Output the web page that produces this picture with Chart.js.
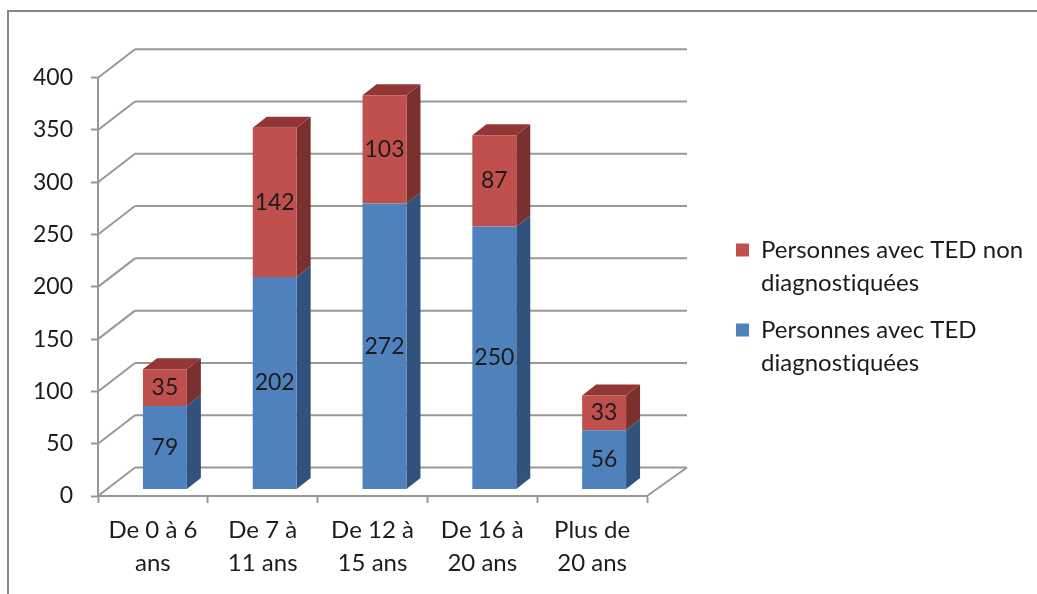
<!DOCTYPE html>
<html lang="fr">
<head>
<meta charset="utf-8">
<title>Personnes avec TED par tranche d'âge</title>
<script src="https://cdn.jsdelivr.net/npm/chart.js@4/dist/chart.umd.min.js"></script>
<style>
html,body{margin:0;padding:0;background:#fff;}
#wrap{width:1037px;height:594px;overflow:hidden;}
canvas{display:block;}
</style>
</head>
<body>
<div id="wrap"><canvas id="c" width="1037" height="594"></canvas></div>
<script>
// Age bands, wrapped on two lines under the axis
const categories = [["De 0 à 6","ans"],["De 7 à","11 ans"],["De 12 à","15 ans"],["De 16 à","20 ans"],["Plus de","20 ans"]];
const diagnosed = [79,202,272,250,56];
const undiagnosed = [35,142,103,87,33];
const diagnosedLabel = ["Personnes avec TED","diagnostiquées"];
const undiagnosedLabel = ["Personnes avec TED non","diagnostiquées"];

const FONT = "Lato, 'Open Sans', sans-serif";
const TEXT = "#1c1c1c";
const LINE = "#989898";
const BLUE = {front:"#4f81bd", side:"#30527c", top:"#3d6594"};
const RED = {front:"#c0504d", side:"#7a302e", top:"#923735"};

// Extrusion of the bars and of the walls behind them
const BAR_DX = 14, BAR_DY = -11, BAR_SHIFT = 12;
const WALL_DX = 37, WALL_DY = -28.5, FLOOR_END_DX = 40;

function line(ctx, x1, y1, x2, y2) {
  ctx.beginPath(); ctx.moveTo(x1, y1); ctx.lineTo(x2, y2); ctx.stroke();
}
function quad(ctx, pts, color) {
  ctx.fillStyle = color;
  ctx.beginPath();
  pts.forEach((p, i) => i ? ctx.lineTo(p[0], p[1]) : ctx.moveTo(p[0], p[1]));
  ctx.closePath();
  ctx.fill();
}

const depthPlugin = {
  id: "depth",
  // The legend sits in the right margin, beside the plot
  afterLayout(chart) {
    const l = chart.legend;
    l.left = 722; l.right = 1037; l.top = 224; l.bottom = 400;
    l.width = 315; l.height = 176;
  },
  beforeDraw(chart) {
    const ctx = chart.ctx;
    // A tiny tracking keeps letter pairs such as "ti" from joining up
    ctx.letterSpacing = "0.01px";
    ctx.save();
    ctx.strokeStyle = "#868686";
    ctx.lineWidth = 2;
    ctx.beginPath();
    ctx.moveTo(8, 594); ctx.lineTo(8, 11); ctx.lineTo(1037, 11);
    ctx.stroke();
    ctx.restore();
  },
  beforeDatasetsDraw(chart) {
    const ctx = chart.ctx, y = chart.scales.y, a = chart.chartArea;
    ctx.save();
    ctx.strokeStyle = LINE;
    ctx.lineWidth = 2;
    // Back wall grid and its returns along the side wall
    y.ticks.forEach(t => {
      const py = y.getPixelForValue(t.value);
      line(ctx, a.left, py, a.left + WALL_DX, py + WALL_DY);
      line(ctx, a.left + WALL_DX, py + WALL_DY, a.right + FLOOR_END_DX, py + WALL_DY);
    });
    line(ctx, a.right, a.bottom, a.right + FLOOR_END_DX, a.bottom + WALL_DY);
    ctx.restore();

    // Side and top faces, then the library's own bars as front faces
    ctx.save();
    ctx.translate(BAR_SHIFT, 0);
    const palettes = [BLUE, RED];
    chart.data.datasets.forEach((ds, di) => {
      chart.getDatasetMeta(di).data.forEach(bar => {
        const p = bar.getProps(["x","y","base","width"], true);
        const r = p.x + p.width / 2, l = p.x - p.width / 2;
        quad(ctx, [[r,p.base],[r+BAR_DX,p.base+BAR_DY],[r+BAR_DX,p.y+BAR_DY],[r,p.y]], palettes[di].side);
        if (di === chart.data.datasets.length - 1) {
          quad(ctx, [[l,p.y],[l+BAR_DX,p.y+BAR_DY],[r+BAR_DX,p.y+BAR_DY],[r,p.y]], palettes[di].top);
        }
      });
    });
  },
  afterDatasetsDraw(chart) {
    const ctx = chart.ctx;
    // Value labels at the centre of each segment
    ctx.fillStyle = TEXT;
    ctx.font = "23px " + FONT;
    ctx.textAlign = "center";
    ctx.textBaseline = "middle";
    chart.data.datasets.forEach((ds, di) => {
      chart.getDatasetMeta(di).data.forEach((bar, i) => {
        const p = bar.getProps(["x","y","base"], true);
        ctx.fillText(String(ds.data[i]), p.x, (p.y + p.base) / 2);
      });
    });
    ctx.restore();
  }
};

new Chart(document.getElementById("c"), {
  type: "bar",
  data: {
    labels: categories,
    datasets: [
      {label: diagnosedLabel, data: diagnosed, backgroundColor: BLUE.front, yAxisID: "yBars", borderWidth: 0},
      {label: undiagnosedLabel, data: undiagnosed, backgroundColor: RED.front, yAxisID: "yBars", borderWidth: 0}
    ]
  },
  options: {
    responsive: false,
    animation: false,
    layout: {padding: {left: 0, right: 390, top: 77.7, bottom: 0}},
    datasets: {bar: {barPercentage: 0.4, categoryPercentage: 1}},
    scales: {
      x: {
        stacked: true,
        offset: true,
        afterFit(s) { s.height = 98; },
        border: {display: true, color: LINE, width: 2},
        grid: {drawOnChartArea: false, drawTicks: true, tickLength: 7, tickWidth: 2, tickColor: LINE, offset: true},
        ticks: {color: TEXT, font: {family: FONT, size: 24, lineHeight: 1.375}, padding: 11, maxRotation: 0, autoSkip: false}
      },
      y: {
        min: 0, max: 400,
        afterFit(s) { s.width = 98; },
        border: {display: true, color: LINE, width: 2},
        grid: {drawOnChartArea: false, drawTicks: true, tickLength: 7, tickWidth: 2, tickColor: LINE},
        ticks: {stepSize: 50, color: TEXT, font: {family: FONT, size: 23}, padding: 18}
      },
      // Bars stand on a plane set slightly inside the floor, so they have their own hidden scale
      yBars: {display: false, stacked: true, min: -6.67, max: 391.7}
    },
    plugins: {
      tooltip: {enabled: false},
      legend: {
        position: "chartArea",
        align: "start",
        reverse: true,
        labels: {
          color: TEXT,
          boxWidth: 13, boxHeight: 13, padding: 14,
          font: {family: FONT, size: 24, lineHeight: 1.375}
        }
      }
    }
  },
  plugins: [depthPlugin]
});
</script>
</body>
</html>
